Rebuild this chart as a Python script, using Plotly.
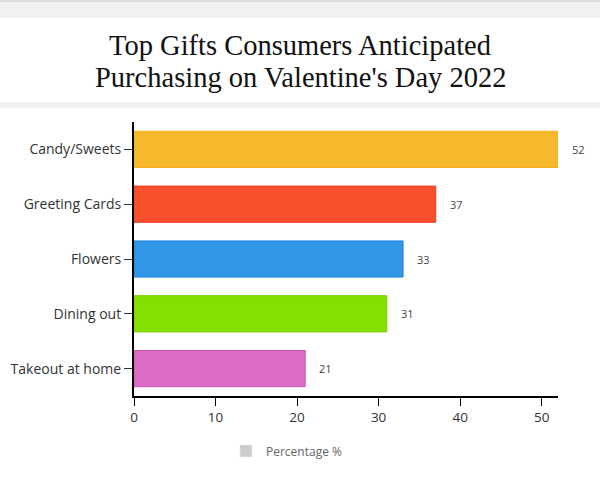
import plotly.graph_objects as go

categories = ["Candy/Sweets", "Greeting Cards", "Flowers", "Dining out", "Takeout at home"]
values = [52, 37, 33, 31, 21]
bar_colors = ["#F6B92B", "#F94F2C", "#3195E8", "#84E000", "#DA6CC4"]
line_colors = ["#F5AC1A", "#EE3A1A", "#1F86E0", "#78D000", "#C955B5"]
title_line1 = "Top Gifts Consumers Anticipated"
title_line2 = "Purchasing on Valentine's Day 2022"
legend_name = "Percentage %"

W, H = 600, 490
L, R, T, B = 134, 42, 122, 94
pw, ph = W - L - R, H - T - B

def px(x):
    return (x - L) / pw

def py(y):
    return (H - B - y) / ph

fig = go.Figure()
fig.add_trace(go.Bar(
    y=categories, x=values, orientation="h",
    marker=dict(color=bar_colors, line=dict(color=line_colors, width=1)),
    showlegend=False, hoverinfo="x+y",
))
# legend entry
fig.add_trace(go.Bar(
    y=[None], x=[None], orientation="h", name=legend_name,
    marker=dict(color="#CCCCCC"), showlegend=True,
))

for c, v in zip(categories, values):
    fig.add_annotation(x=v, y=c, text=str(v), showarrow=False,
                       xanchor="left", xshift=12,
                       font=dict(family="Open Sans", size=11, color="#444"))

title_font = dict(family="Liberation Serif", size=28.5, color="#111")
fig.add_annotation(x=0.5, xref="paper", y=py(77), yref="paper", text=title_line2,
                   showarrow=False, xanchor="center", yanchor="middle", xshift=300 - (L + pw / 2),
                   font=title_font)

shapes = [
    dict(type="rect", xref="paper", yref="paper", x0=px(0), x1=px(W), y0=py(0), y1=py(2),
         fillcolor="#DDDDDD", line_width=0, layer="below"),
    dict(type="rect", xref="paper", yref="paper", x0=px(0), x1=px(W), y0=py(2), y1=py(18),
         fillcolor="#F2F2F2", line_width=0, layer="below"),
    dict(type="rect", xref="paper", yref="paper", x0=px(0), x1=px(W), y0=py(102), y1=py(108),
         fillcolor="#F2F2F2", line_width=0, layer="below"),
]

fig.update_layout(
    width=W, height=H,
    margin=dict(l=L, r=R, t=T, b=B, pad=0),
    paper_bgcolor="white", plot_bgcolor="white",
    bargap=0.34,
    shapes=shapes,
    title=dict(text=title_line1, x=0.5, xref="container", xanchor="center",
               y=1 - 45 / H, yref="container", yanchor="middle",
               font=title_font),
    xaxis=dict(range=[0, 52], dtick=10, showline=True, linecolor="black", linewidth=2,
               ticks="outside", ticklen=8, tickcolor="black", tickwidth=1,
               showgrid=False, zeroline=False,
               tickfont=dict(family="Open Sans", size=13.5, color="#333")),
    yaxis=dict(autorange="reversed", showline=True, linecolor="black", linewidth=2,
               ticks="outside", ticklen=8, tickcolor="#333", tickwidth=1,
               showgrid=False, zeroline=False,
               tickfont=dict(family="Open Sans", size=14, color="#333")),
    legend=dict(orientation="h", x=px(226), xanchor="left", y=py(451), yanchor="middle",
                font=dict(family="Open Sans", size=12, color="#666"),
                itemclick=False),
)

fig.write_html("out.html")
